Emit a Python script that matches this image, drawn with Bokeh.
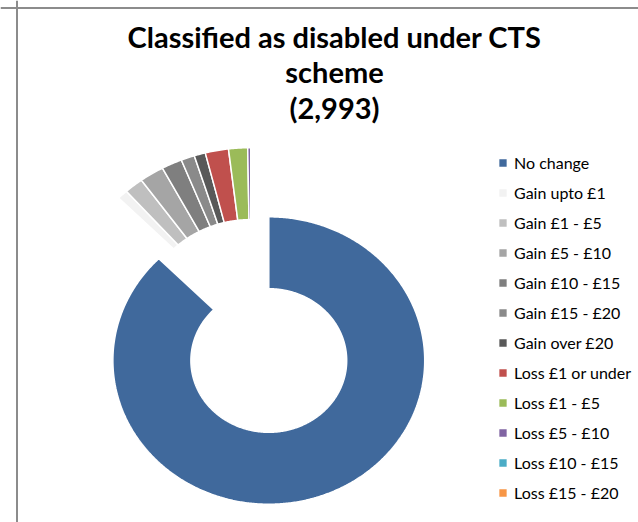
import numpy as np
from bokeh.plotting import figure
from bokeh.models import Range1d, Label, Span, Legend, LegendItem, ColumnDataSource
from bokeh.embed import file_html
from bokeh.resources import INLINE

# ---------------- data ----------------
categories = ["No change", "Gain upto £1", "Gain £1 - £5", "Gain £5 - £10",
              "Gain £10 - £15", "Gain £15 - £20", "Gain over £20",
              "Loss £1 or under", "Loss £1 - £5", "Loss £5 - £10",
              "Loss £10 - £15", "Loss £15 - £20"]
counts = [2620, 27, 49, 63, 53, 35, 29, 60, 49, 8, 0, 0]
colors = ["#40699C", "#F2F2F2", "#BFBFBF", "#A5A5A5", "#7F7F7F", "#8A8A8A",
          "#595959", "#C0504D", "#9BBB59", "#8064A2", "#4BACC6", "#F79646"]
title_lines = ["Classified as disabled under CTS", "scheme"]

# ---------------- geometry / style ----------------
W, H = 638, 522
PX_PER_X = 1.085          # horizontal stretch of the doughnut
center = (268.3 / PX_PER_X, H - 360.0)   # doughnut centre (data units)
r_outer, r_inner = 143.7, 71.8
explode_shift = 43.4      # small slices pushed out as a group
ring_shift = 29.0

total = sum(counts)
vals = np.array(counts, dtype=float)
ends = np.cumsum(vals) / total * 2 * np.pi
starts = ends - vals / total * 2 * np.pi

# group bisector of the small slices
grp_mid = (starts[1] + ends[-1]) / 2.0
gdx = explode_shift * np.sin(grp_mid)
gdy = explode_shift * np.cos(grp_mid)

xs, ys = [], []
for i, (a0, a1) in enumerate(zip(starts, ends)):
    if i == 0:
        cx, cy, ro, ri = center[0], center[1], r_outer, r_inner
    else:
        cx, cy = center[0] + gdx, center[1] + gdy
        ro, ri = r_outer + ring_shift, r_inner + ring_shift
    n = max(2, int(np.degrees(a1 - a0) * 2) + 2)
    t = np.linspace(a0, a1, n)
    ox = cx + ro * np.sin(t)
    oy = cy + ro * np.cos(t)
    ix = cx + ri * np.sin(t[::-1])
    iy = cy + ri * np.cos(t[::-1])
    xs.append(list(np.concatenate([ox, ix])))
    ys.append(list(np.concatenate([oy, iy])))

src = ColumnDataSource(dict(xs=xs, ys=ys, color=colors, label=categories, count=counts))

p = figure(width=W, height=H, output_backend="svg", toolbar_location=None,
           x_axis_type=None, y_axis_type=None,
           x_range=Range1d(0, W / PX_PER_X), y_range=Range1d(0, H),
           min_border=0)
p.grid.visible = False
p.outline_line_color = None
p.background_fill_color = "white"
p.border_fill_color = "white"

r = p.patches("xs", "ys", source=src, fill_color="color", line_color="white",
              line_width=1.5)

# chart-area border (left and top)
p.add_layout(Span(location=16.5 / PX_PER_X, dimension="height",
                  line_color="#8C8C8C", line_width=2))
p.add_layout(Span(location=H - 7.5, dimension="width",
                  line_color="#8C8C8C", line_width=2))

# title
tx = 334 / PX_PER_X
lines = title_lines + [f"({total:,})"]
baselines = [36, 71, 107]
for txt, b in zip(lines, baselines):
    p.add_layout(Label(x=tx, y=H - b, text=txt,
                       text_align="center", text_baseline="alphabetic",
                       text_font="Lato", text_font_style="bold",
                       text_font_size="29px", text_color="black"))

legend = Legend(items=[LegendItem(label=c, renderers=[r], index=i)
                       for i, c in enumerate(categories)],
                location=(497, 20), glyph_width=11, glyph_height=11,
                label_height=20, spacing=10, padding=0, margin=0,
                label_standoff=6, background_fill_alpha=0, border_line_alpha=0,
                label_text_font="Lato", label_text_font_size="16px",
                label_text_color="black")
p.add_layout(legend)

open("out.html", "w").write(file_html(p, INLINE))
